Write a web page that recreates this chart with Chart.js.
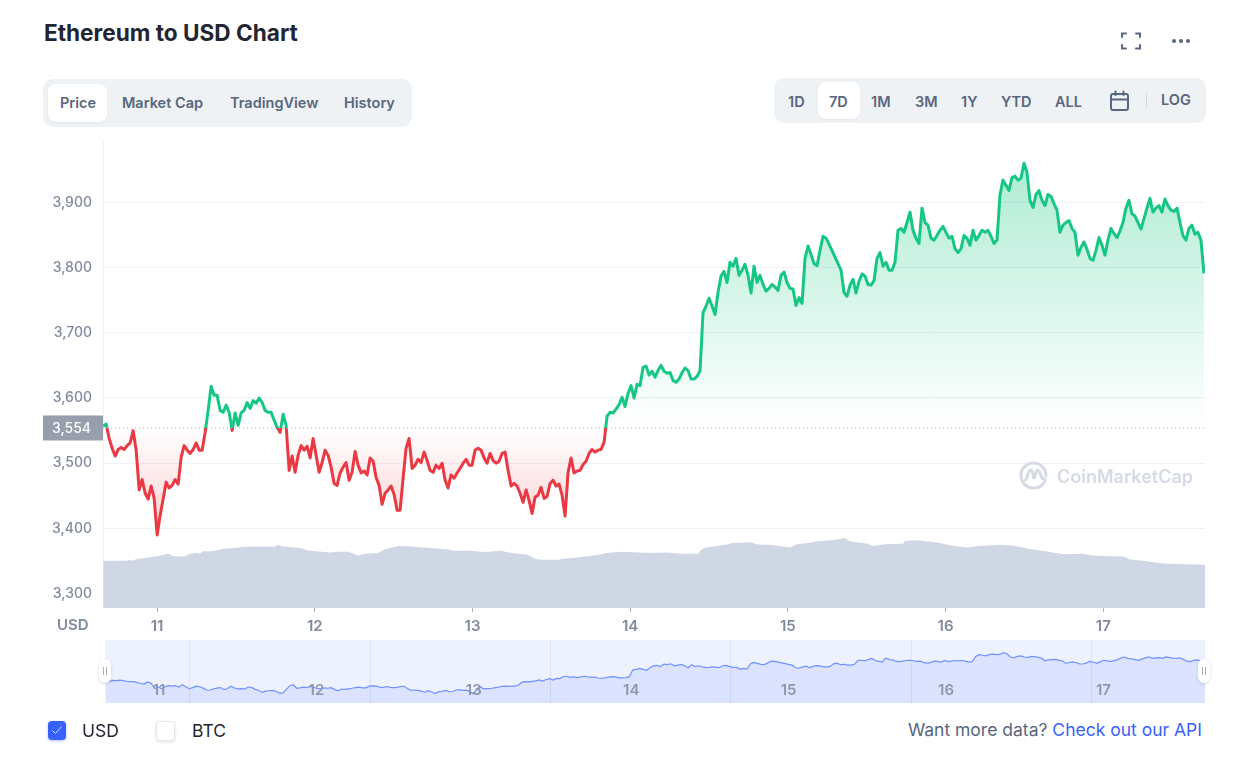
<!DOCTYPE html>
<html><head><meta charset="utf-8"><title>Ethereum to USD Chart</title>
<script src="https://cdn.jsdelivr.net/npm/chart.js@4/dist/chart.umd.js"></script>
<style>
html,body{margin:0;padding:0;background:#fff;width:1234px;height:762px;overflow:hidden;font-family:Inter,sans-serif}
.a{position:absolute;white-space:nowrap;line-height:1}
canvas{position:absolute;display:block}
.panel{position:absolute;background:#eff2f5;border-radius:10px}
.pill{position:absolute;background:#fff;border-radius:8px;box-shadow:0 1px 2px rgba(88,102,126,.08)}
.tab{font-size:14.5px;font-weight:600;color:#58667e}
.handle{position:absolute;width:12px;height:24px;background:#fff;border-radius:6px;box-shadow:0 1px 3px rgba(88,102,126,.25)}
.handle:after{content:"";position:absolute;left:4px;top:8px;width:2px;height:8px;border-left:1px solid #a6b0c3;border-right:1px solid #a6b0c3}
</style></head><body>
<div class="a" style="left:44px;top:22px;font-size:22.6px;font-weight:700;color:#222531">Ethereum to USD Chart</div>
<svg class="a" style="left:1120px;top:31px" width="22" height="20" viewBox="0 0 22 20" fill="none" stroke="#58667e" stroke-width="2" stroke-linecap="round"><path d="M2 6V2.500H6M16 2.500H20V6M2 14V17.500H6M16 17.500H20V14"/></svg>
<svg class="a" style="left:1170px;top:37px" width="22" height="8" viewBox="0 0 22 8" fill="#58667e"><circle cx="4" cy="4" r="2"/><circle cx="11" cy="4" r="2"/><circle cx="18" cy="4" r="2"/></svg>

<div class="panel" style="left:43px;top:79px;width:369px;height:48px"></div>
<div class="pill" style="left:48px;top:84px;width:59px;height:38px"></div>
<div class="a tab" style="left:60px;top:96px">Price</div>
<div class="a tab" style="left:122px;top:96px">Market Cap</div>
<div class="a tab" style="left:230px;top:96px">TradingView</div>
<div class="a tab" style="left:344px;top:96px">History</div>

<div class="panel" style="left:774px;top:78px;width:432px;height:45px"></div>
<div class="pill" style="left:818px;top:82px;width:42px;height:37px"></div>
<div class="a tab" style="left:788px;top:95px">1D</div>
<div class="a tab" style="left:829px;top:95px">7D</div>
<div class="a tab" style="left:871px;top:95px">1M</div>
<div class="a tab" style="left:915px;top:95px">3M</div>
<div class="a tab" style="left:961px;top:95px">1Y</div>
<div class="a tab" style="left:1001px;top:95px">YTD</div>
<div class="a tab" style="left:1055px;top:95px">ALL</div>
<svg class="a" style="left:1109px;top:90px" width="22" height="22" viewBox="0 0 22 22" fill="none" stroke="#58667e" stroke-width="2" stroke-linecap="round"><rect x="2" y="4" width="17" height="16" rx="2"/><path d="M2 9.500H19M6.500 1.500V5M14.500 1.500V5"/></svg>
<div class="a" style="left:1146px;top:93px;width:1px;height:15px;background:#cfd6e4"></div>
<div class="a tab" style="left:1161px;top:93px">LOG</div>

<canvas id="main" width="1234" height="510" style="left:0;top:130px;width:1234px;height:510px"></canvas>
<canvas id="nav" width="1234" height="63" style="left:0;top:640px;width:1234px;height:63px"></canvas>
<div class="handle" style="left:99px;top:659px"></div>
<div class="handle" style="left:1198px;top:659px"></div>

<div class="a" style="left:57px;top:617px;font-size:15px;font-weight:600;color:#808a9d">USD</div>

<svg class="a" style="left:1018px;top:460px" width="31" height="31" viewBox="0 0 31 31" fill="none" stroke="#d5dae4" stroke-width="3" stroke-linecap="round" stroke-linejoin="round"><path d="M27 21c-2 4-6 7-11.500 7C8.600 28 3 22.400 3 15.500S8.600 3 15.500 3 28 8.600 28 15.500"/><path d="M7.500 20c2 0 2-10 5-10s2 8 3.500 8 1.500-8 4-8 2 10 7 9"/></svg>
<div class="a" style="left:1057px;top:468px;font-size:18px;font-weight:600;color:#d5dae4">CoinMarketCap</div>

<div class="a" style="left:48px;top:721px;width:18px;height:19px;background:#3861fb;border-radius:4px;box-shadow:0 1px 3px rgba(56,97,251,.4)"></div>
<svg class="a" style="left:50px;top:723px" width="14" height="14" viewBox="0 0 14 14" fill="none" stroke="#cfd9ff" stroke-width="1"><path d="M2.500 7.500L5.500 10.500L11.500 3.500"/></svg>
<div class="a" style="left:82px;top:722px;font-size:17.500px;color:#222531">USD</div>
<div class="a" style="left:156px;top:721px;width:17px;height:18px;background:#fff;border:1px solid #e3e7ee;border-radius:4px;box-shadow:0 1px 3px rgba(88,102,126,.2)"></div>
<div class="a" style="left:192px;top:722px;font-size:17.500px;color:#222531">BTC</div>
<div class="a" style="right:32px;top:721px;font-size:17.500px;color:#58667e">Want more data? <span style="color:#3861fb">Check out our API</span></div>

<script>
const BASE_PRICE = 3554;
const PRICE_START_DAY = 10.658;
const PRICE_STEP_DAY = 0.01902;
const AXIS_MIN_DAY = 10.657;
const AXIS_MAX_DAY = 17.645;
const NAV_FIRST_SAMPLE = 48;
const NAV_START_DAY = 10.664;
const NAV_STEP_DAY = 0.02201;
const yTickValues = [3300,3400,3500,3600,3700,3800,3900];
const xTickDays = [11,12,13,14,15,16,17];
const navGridDays = [11.196,12.342,13.487,14.633,15.779,16.924];
const priceValues = [
3557,3560,3538,3523,3511,3521,3524,3521,3527,3531,3550,3520,3459,3475,3454,3445,3465,3446,3390,3420,
3445,3471,3462,3466,3475,3468,3509,3527,3520,3515,3521,3531,3520,3520,3547,3581,3618,3604,3604,3581,
3578,3589,3578,3550,3577,3558,3577,3581,3593,3584,3596,3592,3600,3593,3581,3578,3578,3566,3555,3547,
3575,3558,3489,3511,3486,3512,3527,3520,3526,3508,3538,3512,3486,3501,3520,3512,3494,3469,3466,3485,
3494,3501,3474,
3486,3518,3497,3485,3488,3482,3508,3503,3478,3466,3437,3454,3459,3465,3452,3428,3428,3477,3523,3538,
3492,3497,3506,3501,3517,3504,3489,3486,3497,3492,3500,3474,3462,3482,3477,3485,3492,3500,3506,3497,
3497,3520,3523,3520,3508,3500,3515,3504,3500,3503,3515,3517,3489,3465,3469,3465,3454,3440,3459,3443,
3423,3448,3451,3463,3446,3449,3469,3474,3465,3468,3451,3419,3486,3508,3485,3488,3489,3498,3503,3515,
3521,3517,3520,3521,3532,3572,3578,3577,3583,3590,3601,3587,3607,3619,3600,3621,3619,3647,3649,3635,
3641,3632,3642,3650,3641,3638,3639,3627,3624,3629,3639,3646,3642,3629,3629,3633,3642,3731,3741,3753,
3741,3728,3762,3787,3794,3777,3808,3802,3814,3788,3796,3805,3788,3761,3802,3777,3788,3774,3764,3768,
3774,3770,3765,3788,3793,3777,3768,3767,3742,3754,3745,3814,3833,3820,3806,3803,3826,3848,3845,3836,
3826,3816,3806,3796,3762,3756,3773,3782,3761,3779,3790,3787,3774,3773,3780,3814,3823,3802,3808,3796,
3796,3808,3857,3860,3854,3869,3885,3857,3845,3837,3891,3869,3865,3845,3842,3849,3857,3863,3854,3845,
3848,3829,3823,3829,3849,3845,3834,3857,3842,3849,3857,3854,3857,3848,3837,3842,3911,3934,3926,3918,
3938,3940,3934,3937,3960,3946,3903,3892,3912,3918,3903,3895,3912,3909,3898,3888,3854,3865,3869,3872,
3860,3854,3819,3831,3839,3828,3814,3811,3826,3846,3834,3819,3842,3860,3852,3846,3856,3869,3891,3903,
3882,3879,3869,3859,3875,3891,3906,3885,3891,3895,3885,3905,3895,3888,3886,3891,3869,3849,3842,3860,
3865,3851,3854,3842,3791
];
const volumeDays = [10.658,10.803,10.822,10.835,10.880,10.924,10.975,11.019,11.051,11.070,11.095,11.120,11.178,11.209,11.247,11.272,11.291,11.355,11.419,11.514,11.545,11.748,11.767,11.799,11.907,11.957,12.097,12.141,12.211,12.275,12.319,12.401,12.446,12.497,12.528,12.617,12.687,12.750,12.839,12.877,12.985,13.080,13.175,13.251,13.353,13.397,13.441,13.543,13.569,13.638,13.734,13.810,13.854,13.949,14.127,14.235,14.317,14.431,14.450,14.475,14.539,14.615,14.647,14.761,14.811,14.900,15.014,15.058,15.128,15.185,15.280,15.363,15.394,15.502,15.540,15.616,15.730,15.743,15.819,15.902,15.965,16.028,16.136,16.206,16.345,16.421,16.491,16.536,16.644,16.745,16.872,16.929,17.043,17.126,17.170,17.278,17.360,17.411,17.646];
const volumeValues = [30.3,30.3,30.8,30.3,31.6,32.2,32.9,33.5,34.5,34.8,33.5,33.1,33.2,34.8,35.4,34.8,36.5,36.5,38.0,38.7,39.3,39.3,40.6,39.5,38.5,36.9,35.6,36.1,36.1,33.7,34.8,35.3,37.8,39.1,39.9,39.5,38.8,38.4,37.8,36.7,36.7,35.9,36.7,35.3,34.2,31.4,31.0,31.0,31.6,32.2,33.3,34.4,35.3,36.1,35.4,35.6,34.8,34.8,37.4,38.7,39.7,40.8,41.7,42.3,40.8,40.4,38.8,41.0,41.7,42.9,43.6,44.9,42.7,41.4,39.9,41.0,41.2,43.1,43.6,42.5,41.7,40.1,38.8,39.9,40.6,40.1,38.8,37.8,36.3,34.6,34.8,33.7,33.3,33.1,31.2,30.1,28.8,28.4,27.8];

const pricePoints = priceValues.map((v,i)=>({x:PRICE_START_DAY+i*PRICE_STEP_DAY,y:v}));
const navPoints = priceValues.slice(NAV_FIRST_SAMPLE).map((v,i)=>({x:NAV_START_DAY+i*NAV_STEP_DAY,y:v}));
const volumePoints = volumeValues.map((v,i)=>({x:volumeDays[i],y:v}));
const fmt = v => Number(v).toLocaleString('en-US');
const tickFont = {family:'Inter',size:14,weight:'500'};

const lastPriceLabel = {
  id:'lastPriceLabel',
  afterDraw(c){
    const y=c.scales.y.getPixelForValue(BASE_PRICE), g=c.ctx, r=c.chartArea.left;
    g.save();
    g.fillStyle='#979eae';
    g.fillRect(43,y-12.500,r-43,25);
    g.fillStyle='#fff';
    g.font='500 14px Inter';
    g.textAlign='right';g.textBaseline='middle';
    g.fillText(fmt(BASE_PRICE),91,y+1);
    g.restore();
  }
};

const main = new Chart(document.getElementById('main'),{
  type:'line',
  data:{datasets:[
    {data:pricePoints,order:1,xAxisID:'x',yAxisID:'y',borderWidth:3,pointRadius:0,tension:0,borderColor:'#16c784',borderJoinStyle:'round'},
    {data:[{x:AXIS_MIN_DAY,y:BASE_PRICE},{x:AXIS_MAX_DAY,y:BASE_PRICE}],order:0,xAxisID:'x',yAxisID:'y',borderWidth:1,borderDash:[1,3],borderColor:'#a6b0c3',pointRadius:0},
    {data:volumePoints,order:3,xAxisID:'x',yAxisID:'yVol',borderWidth:0,pointRadius:0,tension:0,fill:'origin',backgroundColor:'#cfd6e4'}
  ]},
  options:{
    responsive:false,animation:false,devicePixelRatio:1,
    layout:{padding:{top:11,right:29,left:0,bottom:0}},
    plugins:{legend:{display:false},tooltip:{enabled:false}},
    events:[],
    scales:{
      x:{type:'linear',min:AXIS_MIN_DAY,max:AXIS_MAX_DAY,
        afterBuildTicks:s=>{s.ticks=xTickDays.map(v=>({value:v}));},
        afterFit:s=>{s.height=32;},
        grid:{drawOnChartArea:false,drawTicks:true,tickLength:4,tickColor:'#a6b0c3'},
        border:{display:false},
        ticks:{color:'#808a9d',padding:5,maxRotation:0,autoSkip:false,font:{family:'Inter',size:15,weight:'600'},callback:v=>String(v)}},
      y:{min:3278,max:3994,position:'left',
        afterBuildTicks:s=>{s.ticks=yTickValues.map(v=>({value:v}));},
        afterFit:s=>{s.width=103;s.paddingTop=0;s.paddingBottom=0;},
        grid:{color:'#eff2f5',drawTicks:false},
        border:{display:true,color:'#eff2f5'},
        ticks:{color:'#808a9d',padding:11,font:tickFont,callback:v=>fmt(v)}},
      yVol:{display:false,min:0,max:300,position:'right'}
    }
  },
  plugins:[lastPriceLabel]
});

(function applyGradients(){
  const s=main.scales.y, g=main.ctx;
  const base=s.getPixelForValue(BASE_PRICE);
  const top=s.getPixelForValue(Math.max(...priceValues));
  const bot=s.getPixelForValue(Math.min(...priceValues));
  const stroke=g.createLinearGradient(0,top,0,bot);
  const r=(base-top)/(bot-top);
  stroke.addColorStop(0,'#16c784');stroke.addColorStop(r,'#16c784');
  stroke.addColorStop(r,'#ea3943');stroke.addColorStop(1,'#ea3943');
  const above=g.createLinearGradient(0,top,0,base);
  above.addColorStop(0,'rgba(22,199,132,0.34)');above.addColorStop(1,'rgba(22,199,132,0)');
  const below=g.createLinearGradient(0,base,0,bot);
  below.addColorStop(0,'rgba(234,57,67,0)');below.addColorStop(1,'rgba(234,57,67,0.24)');
  const d=main.data.datasets[0];
  d.borderColor=stroke;
  d.fill={target:{value:BASE_PRICE},above,below};
  main.update('none');
})();

const navBackground = {
  id:'navBackground',
  beforeDraw(c){const a=c.chartArea,g=c.ctx;g.save();g.fillStyle='#eef2fe';g.fillRect(a.left,a.top,a.right-a.left,a.bottom-a.top);g.restore();}
};
new Chart(document.getElementById('nav'),{
  type:'line',
  data:{datasets:[{data:navPoints,xAxisID:'x',yAxisID:'y',borderWidth:1.200,borderColor:'#6f92ff',pointRadius:0,tension:0,fill:'origin',backgroundColor:'rgba(56,97,251,0.10)'}]},
  options:{
    responsive:false,animation:false,devicePixelRatio:1,events:[],
    layout:{padding:{left:105,right:29,top:0,bottom:0}},
    plugins:{legend:{display:false},tooltip:{enabled:false}},
    scales:{
      x:{type:'linear',min:AXIS_MIN_DAY,max:AXIS_MAX_DAY,position:'bottom',
        afterBuildTicks:s=>{s.ticks=xTickDays.map(v=>({value:v}));},
        afterFit:s=>{s.height=0;},
        grid:{display:false},border:{display:false},
        ticks:{z:2,mirror:true,color:'#8f97aa',padding:4,maxRotation:0,autoSkip:false,font:{family:'Inter',size:15,weight:'600'},callback:v=>String(v)}},
      grid:{type:'linear',axis:'x',min:AXIS_MIN_DAY,max:AXIS_MAX_DAY,position:'bottom',
        afterBuildTicks:s=>{s.ticks=navGridDays.map(v=>({value:v}));},
        afterFit:s=>{s.height=0;},
        grid:{color:'#dbe2f8',drawTicks:false},border:{display:false},
        ticks:{display:false}},
      y:{display:false,min:3298,max:4127}
    }
  },
  plugins:[navBackground]
});
</script>
</body></html>
